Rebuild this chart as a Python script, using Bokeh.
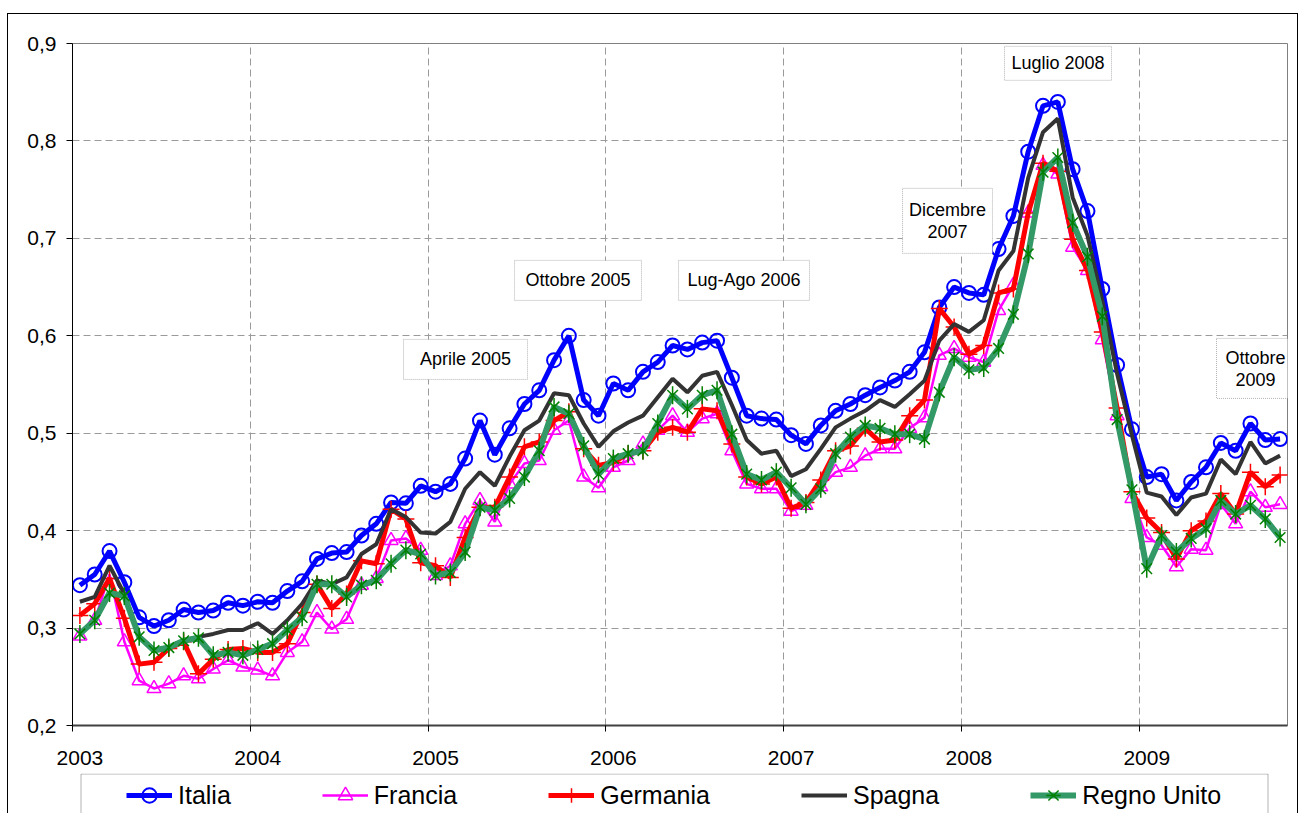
import math
import pandas as pd
from bokeh.plotting import figure
from bokeh.layouts import column
from bokeh.models import FixedTicker, Range1d, Legend, LegendItem, Label, BoxAnnotation
from bokeh.embed import file_html
from bokeh.resources import INLINE

# ---------------- data ----------------
months = pd.date_range("2003-01-01", "2009-10-01", freq="MS")

italia = [0.344, 0.355, 0.379, 0.347, 0.311, 0.302, 0.308, 0.319, 0.316, 0.318, 0.326, 0.323,
          0.327, 0.326, 0.338, 0.348, 0.371, 0.377, 0.378, 0.395, 0.407, 0.429, 0.428, 0.446,
          0.440, 0.448, 0.474, 0.513, 0.478, 0.505, 0.530, 0.544, 0.575, 0.600, 0.534, 0.518,
          0.551, 0.544, 0.563, 0.573, 0.590, 0.586, 0.593, 0.595, 0.557, 0.518, 0.515, 0.514,
          0.498, 0.489, 0.508, 0.523, 0.530, 0.539, 0.547, 0.554, 0.563, 0.583, 0.629, 0.650,
          0.644, 0.642, 0.689, 0.723, 0.789, 0.836, 0.840, 0.771, 0.728, 0.648, 0.570, 0.504,
          0.455, 0.458, 0.431, 0.450, 0.465, 0.490, 0.482, 0.510, 0.493, 0.494]

francia = [0.292, 0.308, 0.355, 0.286, 0.246, 0.238, 0.243, 0.251, 0.248, 0.258, 0.267, 0.260,
           0.257, 0.251, 0.275, 0.286, 0.316, 0.299, 0.309, 0.344, 0.351, 0.390, 0.392, 0.380,
           0.354, 0.364, 0.407, 0.431, 0.409, 0.448, 0.469, 0.472, 0.503, 0.513, 0.455, 0.444,
           0.465, 0.472, 0.489, 0.503, 0.518, 0.501, 0.515, 0.520, 0.482, 0.448, 0.443, 0.443,
           0.420, 0.426, 0.445, 0.460, 0.465, 0.477, 0.484, 0.484, 0.505, 0.516, 0.580, 0.587,
           0.578, 0.573, 0.626, 0.652, 0.726, 0.775, 0.766, 0.691, 0.667, 0.596, 0.518, 0.433,
           0.393, 0.385, 0.363, 0.381, 0.380, 0.427, 0.407, 0.440, 0.424, 0.427]

germania = [0.313, 0.325, 0.351, 0.310, 0.263, 0.265, 0.279, 0.286, 0.253, 0.268, 0.278, 0.279,
            0.275, 0.275, 0.284, 0.316, 0.345, 0.320, 0.335, 0.369, 0.366, 0.422, 0.412, 0.367,
            0.364, 0.352, 0.393, 0.424, 0.424, 0.455, 0.486, 0.491, 0.513, 0.522, 0.484, 0.467,
            0.470, 0.479, 0.482, 0.501, 0.506, 0.501, 0.525, 0.523, 0.489, 0.455, 0.448, 0.455,
            0.423, 0.429, 0.452, 0.482, 0.487, 0.505, 0.491, 0.493, 0.518, 0.534, 0.628, 0.609,
            0.581, 0.590, 0.644, 0.648, 0.726, 0.777, 0.769, 0.699, 0.667, 0.604, 0.526, 0.440,
            0.413, 0.398, 0.371, 0.400, 0.410, 0.438, 0.417, 0.460, 0.445, 0.457]

spagna = [0.327, 0.332, 0.364, 0.335, 0.292, 0.278, 0.280, 0.287, 0.291, 0.294, 0.298, 0.298,
          0.305, 0.294, 0.308, 0.325, 0.349, 0.345, 0.352, 0.376, 0.386, 0.422, 0.414, 0.398,
          0.397, 0.409, 0.443, 0.460, 0.446, 0.476, 0.503, 0.513, 0.541, 0.539, 0.510, 0.486,
          0.502, 0.511, 0.518, 0.537, 0.556, 0.542, 0.559, 0.563, 0.529, 0.493, 0.479, 0.482,
          0.456, 0.463, 0.484, 0.506, 0.515, 0.523, 0.534, 0.527, 0.540, 0.554, 0.595, 0.612,
          0.604, 0.616, 0.667, 0.687, 0.762, 0.809, 0.823, 0.742, 0.703, 0.636, 0.561, 0.498,
          0.439, 0.435, 0.416, 0.434, 0.438, 0.473, 0.458, 0.491, 0.469, 0.477]

regno_unito = [0.294, 0.308, 0.336, 0.333, 0.291, 0.277, 0.280, 0.287, 0.290, 0.272, 0.275, 0.272,
               0.278, 0.284, 0.298, 0.311, 0.345, 0.345, 0.332, 0.344, 0.349, 0.366, 0.380, 0.376,
               0.354, 0.357, 0.378, 0.424, 0.421, 0.433, 0.455, 0.482, 0.527, 0.520, 0.487, 0.458,
               0.474, 0.479, 0.482, 0.510, 0.539, 0.525, 0.539, 0.544, 0.499, 0.458, 0.452, 0.460,
               0.444, 0.427, 0.443, 0.479, 0.496, 0.508, 0.505, 0.499, 0.499, 0.494, 0.542, 0.578,
               0.565, 0.567, 0.587, 0.622, 0.684, 0.768, 0.783, 0.716, 0.681, 0.620, 0.514, 0.442,
               0.361, 0.395, 0.378, 0.392, 0.402, 0.431, 0.417, 0.426, 0.412, 0.393]

year_labels = ["2003", "2004", "2005", "2006", "2007", "2008", "2009"]
y_ticks = [0.2, 0.3, 0.4, 0.5, 0.6, 0.7, 0.8, 0.9]
y_tick_labels = ["0,2", "0,3", "0,4", "0,5", "0,6", "0,7", "0,8", "0,9"]
series_names = ["Italia", "Francia", "Germania", "Spagna", "Regno Unito"]

# callouts: (lines of text, text centre in months, box left/right in months, box top/bottom in value)
callouts = [
    (["Aprile 2005"], 26.52, 22.34, 30.71, 0.5963, 0.5552),
    (["Ottobre 2005"], 34.12, 29.83, 38.40, 0.6774, 0.6363),
    (["Lug-Ago 2006"], 45.32, 40.90, 49.74, 0.6774, 0.6363),
    (["Dicembre", "2007"], 59.05, 56.02, 62.09, 0.7513, 0.6846),
    (["Luglio 2008"], 66.51, 62.90, 70.12, 0.8971, 0.8622),
    (["Ottobre", "2009"], 79.84, 77.21, 83.2, 0.5973, 0.5357),
]

# month centre positions on a month-based axis
x = [(d.year - 2003) * 12 + d.month - 0.5 for d in months]
n_months = (months[-1].year - 2003) * 12 + months[-1].month

FONT = "Liberation Sans"
W = 1301

STYLE = {
    "Italia": dict(line=dict(line_color="#0000FF", line_width=5),
                   markers=[dict(marker="circle", size=14, fill_color=None,
                                 line_color="#0000FF", line_width=2)]),
    "Francia": dict(line=dict(line_color="#FF00FF", line_width=2.5),
                    markers=[dict(marker="triangle", size=14, fill_color=None,
                                  line_color="#FF00FF", line_width=1.5)]),
    "Germania": dict(line=dict(line_color="#FF0000", line_width=5),
                     markers=[dict(marker="cross", size=17, line_color="#FF0000", line_width=1.5)]),
    "Spagna": dict(line=dict(line_color="#333333", line_width=4), markers=[]),
    "Regno Unito": dict(line=dict(line_color="#339966", line_width=6),
                        markers=[dict(marker="x", size=15, line_color="#008000", line_width=1.5),
                                 dict(marker="dash", size=18, angle=math.pi / 2,
                                      line_color="#008000", line_width=1.5)]),
}
values = dict(zip(series_names, [italia, francia, germania, spagna, regno_unito]))


def draw_series(fig):
    out = {}
    for name in series_names:
        st = STYLE[name]
        rs = [fig.line(x, values[name], **st["line"])]
        for mk in st["markers"]:
            rs.append(fig.scatter(x, values[name], **mk))
        out[name] = rs
    return out


# ---------------- main chart ----------------
p = figure(width=W, height=773, title=None,
           x_range=Range1d(0, n_months), y_range=Range1d(0.2, 0.9),
           output_backend="svg", toolbar_location=None,
           min_border_left=72, min_border_right=14, min_border_top=43, min_border_bottom=48)
p.background_fill_color = "white"
p.border_fill_alpha = 0
p.outline_line_color = "#808080"
p.outline_line_width = 1

p.xaxis.ticker = FixedTicker(ticks=[12 * k + 0.5 for k in range(len(year_labels))],
                             minor_ticks=[12 * k for k in range(len(year_labels))])
p.xaxis.major_label_overrides = {12 * k + 0.5: lab for k, lab in enumerate(year_labels)}
p.xaxis.major_tick_out = 0
p.xaxis.major_tick_in = 0
p.xaxis.major_tick_line_color = None
p.xaxis.minor_tick_out = 6
p.xaxis.minor_tick_in = 0
p.xaxis.minor_tick_line_color = "black"
p.xaxis.major_label_standoff = 19
p.xaxis.axis_line_color = "#404040"
p.xaxis.axis_line_width = 2

p.yaxis.ticker = FixedTicker(ticks=y_ticks, minor_ticks=[])
p.yaxis.major_label_overrides = dict(zip(y_ticks, y_tick_labels))
p.yaxis.major_tick_out = 6
p.yaxis.major_tick_in = 0
p.yaxis.minor_tick_line_color = None
p.yaxis.major_label_standoff = 10
p.yaxis.axis_line_color = "black"

for ax in (p.xaxis, p.yaxis):
    ax.major_label_text_font = FONT
    ax.major_label_text_font_size = "21px"
    ax.major_label_text_color = "black"

p.xgrid.ticker = FixedTicker(ticks=[12 * k for k in range(1, len(year_labels))])
p.ygrid.ticker = FixedTicker(ticks=y_ticks[1:-1])
for g in (p.xgrid, p.ygrid):
    g.grid_line_color = "#9a9a9a"
    g.grid_line_dash = "7 4"
    g.grid_line_width = 1

draw_series(p)

for lines, cx, left, right, top, bottom in callouts:
    p.add_layout(BoxAnnotation(left=left, right=right, top=top, bottom=bottom,
                               fill_color="white", fill_alpha=1.0, line_color="black",
                               line_width=1, line_dash="1 1"))
    cy = (top + bottom) / 2
    step = 0.0221
    for j, t in enumerate(lines):
        yy = cy + step * ((len(lines) - 1) / 2 - j)
        p.add_layout(Label(x=cx, y=yy, text=t, text_align="center", text_baseline="middle",
                           text_font=FONT, text_font_size="18px", text_color="black"))

# ---------------- legend strip (frame aligned with the chart's frame) ----------------
# y range chosen so the series (legend proxies) fall outside the visible strip
p2 = figure(width=W, height=40, title=None, x_range=Range1d(0, n_months), y_range=Range1d(10, 50),
            output_backend="svg", toolbar_location=None,
            x_axis_location=None, y_axis_location=None,
            min_border=0, min_border_left=0, min_border_right=0,
            min_border_top=0, min_border_bottom=0)
p2.background_fill_alpha = 0
p2.border_fill_alpha = 0
p2.outline_line_color = None
p2.grid.visible = False

p2.add_layout(BoxAnnotation(left=0.574, right=80.685, top=49.5, bottom=0,
                            fill_color="white", fill_alpha=1.0, line_color="black",
                            line_width=1))

proxies = draw_series(p2)
items = [LegendItem(label=name, renderers=proxies[name]) for name in series_names]

legend = Legend(items=items, orientation="horizontal", location=(50, -4), padding=4,
                spacing=91, glyph_width=46, glyph_height=36, label_standoff=6,
                label_text_font=FONT, label_text_font_size="25px", label_text_color="black",
                border_line_alpha=0, background_fill_alpha=0, margin=0)
p2.add_layout(legend)

bg = ("linear-gradient(#000,#000) 7px 13px / 1px 900px no-repeat, "
      "linear-gradient(#000,#000) 7px 13px / 1291px 1px no-repeat, "
      "linear-gradient(#000,#000) 1297px 13px / 1px 900px no-repeat, white")
layout = column(p, p2, spacing=0, styles={"background": bg})

open("out.html", "w").write(file_html(layout, INLINE))
